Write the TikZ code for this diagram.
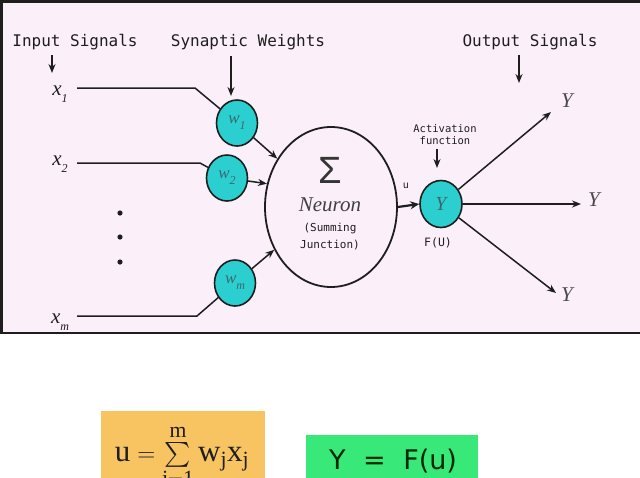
\documentclass[tikz,border=0pt]{standalone}
\usepackage{amsmath}
\usepackage{fontspec}
\setmainfont{Liberation Serif}
\newfontfamily\monof{DejaVu Sans Mono}
\newfontfamily\sansf{DejaVu Sans}
\newfontfamily\arialf{Liberation Sans}
\usetikzlibrary{arrows.meta,shapes.geometric}
\definecolor{bgpink}{HTML}{FBF0FA}
\definecolor{cyanw}{HTML}{2CCFD0}
\definecolor{orangebox}{HTML}{F8C462}
\definecolor{greenbox}{HTML}{38E878}
\definecolor{ink}{HTML}{1E1E1E}
\definecolor{wtext}{HTML}{3A6A70}
\newcommand{\lblsub}[2]{#1\raisebox{-0.35em}{\fontsize{12}{12}\selectfont #2}}
\tikzset{
  wcirc/.style={ellipse, draw=ink, line width=1.6pt, fill=cyanw, minimum width=41pt, minimum height=46pt, inner sep=0pt, font=\fontsize{17}{17}\selectfont\itshape, text=wtext},
  head/.style={font=\monof\fontsize{16}{16}\selectfont, text=ink, inner sep=0pt},
  small/.style={font=\monof\fontsize{10.5}{12}\selectfont, text=ink, inner sep=0pt, align=center},
  xlbl/.style={font=\fontsize{21}{21}\selectfont\itshape, text=ink, inner sep=0pt},
  ylbl/.style={font=\fontsize{21}{21}\selectfont\itshape, text=ink!80, inner sep=0pt},
  wire/.style={draw=ink, line width=1.5pt},
  arr/.style={draw=ink, line width=1.5pt, -{Stealth[length=9pt,width=7pt]}},
}
\begin{document}
\begin{tikzpicture}[x=1pt,y=-1pt]
\useasboundingbox (0,0) rectangle (640,477);
\clip (0,0) rectangle (640,477);
\fill[white] (0,0) rectangle (640,477);
\draw[line width=2.8pt, draw=ink, fill=bgpink] (1.5,1.5) rectangle (650,333);

% headings
\node[head] (inlbl) at (75,42) {Input Signals};
\node[head] (swlbl) at (248,42) {Synaptic Weights};
\node[head] (oslbl) at (530,42) {Output Signals};
\coordinate (ia) at (52,73);
\coordinate (sa) at (231,96);
\coordinate (oa) at (519,83);
\draw[arr] (ia |- inlbl.south) ++(0,5) -- (ia);
\draw[arr] (sa |- swlbl.south) ++(0,6) -- (sa);
\draw[arr] (oa |- oslbl.south) ++(0,5) -- (oa);

% inputs
\node[xlbl] (x1) at (60,94) {\lblsub{x}{1}};
\node[xlbl] (x2) at (60,164) {\lblsub{x}{2}};
\node[xlbl] (xm) at (60,322) {\lblsub{x}{m}};

% weights
\node[wcirc] (w1) at (237,123) {\lblsub{w}{1}};
\node[wcirc] (w2) at (227,178) {\lblsub{w}{2}};
\node[wcirc] (wm) at (235,283) {\lblsub{w}{m}};

\coordinate (b1) at (195,88);
\coordinate (b2) at (200,163);
\coordinate (bm) at (197,316);
\draw[wire] (77,88) coordinate (s1) -- (b1) -- (w1);
\draw[wire] (77,163) coordinate (s2) -- (b2) -- (w2);
\draw[wire] (77,316) coordinate (sm) -- (bm) -- (wm);

% dots
\foreach \yy in {213,237,262} \fill[ink] (120,\yy) circle (2.6pt);

% neuron
\node[ellipse, draw=ink, line width=1.8pt, fill=bgpink, minimum width=132pt, minimum height=160pt] (neuron) at (331,207) {};
\node[font=\arialf\fontsize{38}{38}\selectfont, text=ink!90, inner sep=0pt] (sig) at (330,170) {Σ};
\node[font=\fontsize{21}{21}\selectfont\itshape, text=ink!85, inner sep=0pt] (nlbl) at (330,205) {Neuron};
\node[small, font=\monof\fontsize{11}{17}\selectfont] (sj) at (330,237) {(Summing\\Junction)};

\draw[arr] (w1) -- (neuron.138);
\draw[arr] (w2) -- (neuron.160);
\draw[arr] (wm) -- (neuron.217);

% activation
\node[wcirc, minimum width=42pt, minimum height=47pt, font=\fontsize{20}{20}\selectfont\itshape] (Y) at (441,204) {Y};
\draw[draw=ink, line width=2.2pt, -{Stealth[length=9pt,width=8pt]}] (neuron.east) -- (Y.west);
\node[small, font=\monof\fontsize{10}{10}\selectfont] (ulbl) at (406,186) {u};
\node[small] (act) at (445,135) {Activation\\function};
\coordinate (aa) at (437,168);
\draw[arr, line width=1.3pt] (aa |- act.south) ++(0,4) -- (aa);
\node[small, font=\monof\fontsize{11.5}{12}\selectfont] (fu) at (438,243) {F(U)};

% outputs
\coordinate (o1) at (551,112);
\coordinate (o2) at (581,204);
\coordinate (o3) at (556,293);
\draw[arr] (Y) -- (o1);
\draw[arr] (Y) -- (o2);
\draw[arr] (Y) -- (o3);
\node[ylbl] (y1) at (567,101) {Y};
\node[ylbl] (y2) at (594,200) {Y};
\node[ylbl] (y3) at (567,295) {Y};

% formulas
\fill[orangebox] (101,411) rectangle (265,480);
\node[font=\fontsize{31}{31}\selectfont, text=ink, inner sep=0pt, anchor=base] (f1) at (182,461) {$\mathrm{u}=\sum\limits_{\mathrm{j=1}}^{\mathrm{m}}\mathrm{w_j x_j}$};
\fill[greenbox] (306,435) rectangle (478,480);
\node[font=\sansf\fontsize{27}{27}\selectfont, text=black!85!green, inner sep=0pt] (f2) at (393,461) {Y\,\, =\,\, F(u)};
\end{tikzpicture}
\end{document}
